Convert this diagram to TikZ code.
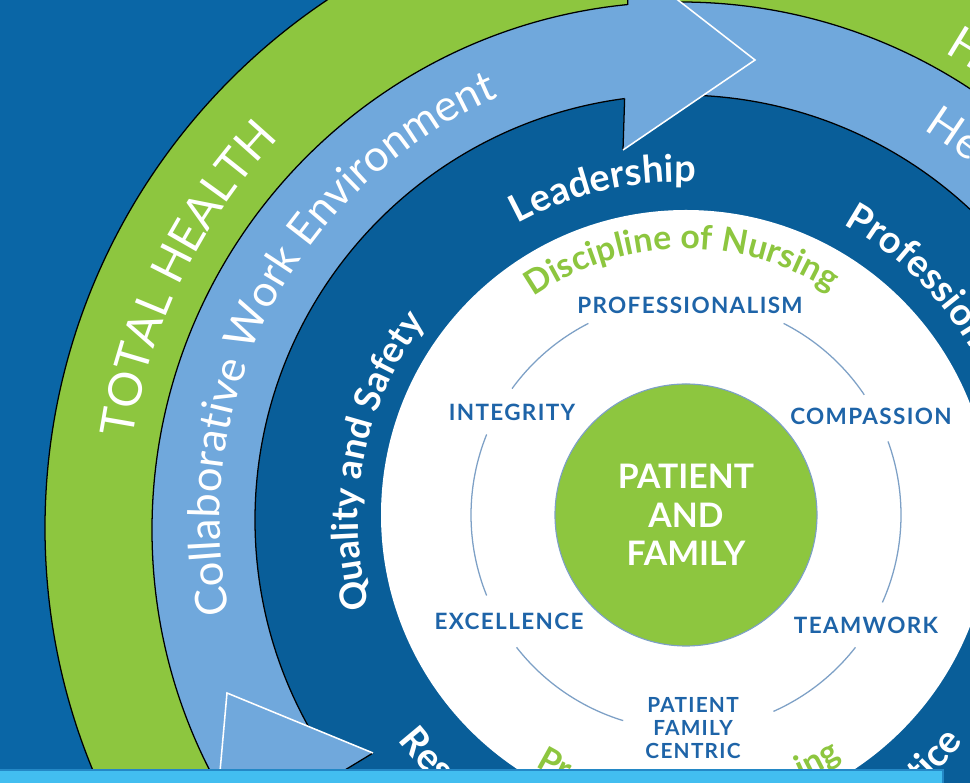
\documentclass[tikz,border=0pt]{standalone}
\usepackage{fontspec}
\setmainfont{Lato}
\newfontfamily\spacedfont{Lato}[LetterSpace=6]
\usepackage{tikz}
\usetikzlibrary{
   calc,
   decorations.text
}

\definecolor{bgblue}{RGB}{10,102,166}
\definecolor{deepblue}{RGB}{9,94,153}
\definecolor{skyblue}{RGB}{112,168,220}
\definecolor{leafgreen}{RGB}{141,198,63}
\definecolor{valueblue}{RGB}{30,100,168}
\definecolor{arcgrey}{RGB}{125,160,198}
\definecolor{barblue}{RGB}{66,190,240}
\definecolor{baredge}{RGB}{36,136,198}

\begin{document}
\begin{tikzpicture}[
    x=0.25mm, y=0.25mm,
    band/.style={draw=black, line width=0.9pt},
    valuelabel/.style={font=\spacedfont\bfseries\fontsize{16}{18}\selectfont, text=valueblue, align=center, inner sep=0pt},
    core/.style={circle, fill=leafgreen, draw=arcgrey, line width=0.8pt, minimum size=65.5mm, inner sep=0pt,
                 font=\bfseries\fontsize{24}{27.4}\selectfont, text=white, align=center},
    head/.style={fill=skyblue},
    tipline/.style={draw=white, line width=1.1pt},
    valuearc/.style={draw=arcgrey, line width=0.9pt}
]

\useasboundingbox (0,0) rectangle (970,783);
\clip (0,0) rectangle (970,783);

\coordinate (C) at (680,263);   % centre of the lettering on the bands
\coordinate (Cg) at (680,255);  % green band
\coordinate (Cs) at (680,253);  % light band
\coordinate (O) at (686,268);   % centre of the core

% background and bands
\fill[bgblue] (0,0) rectangle (970,783);
\filldraw[band, fill=leafgreen] (Cg) circle[radius=635];
\filldraw[band, fill=skyblue] (Cs) circle[radius=528];
\filldraw[band, fill=deepblue] (C) circle[radius=425];
\fill[white] (O) circle[radius=305];

% arrow heads on the light band
\coordinate (tipT) at (755,723);
\coordinate (barbTi) at (623,633);
\coordinate (barbTo) at (629,821);
\fill[head] (barbTi) -- (tipT) -- (barbTo) -- cycle;
\draw[band] (barbTi) -- ($(barbTi)!0.273!(barbTo)$);
\draw[band] ($(barbTi)!0.772!(barbTo)$) -- (barbTo);
\draw[tipline] (barbTi) -- (tipT) -- (barbTo);

\coordinate (tipB) at (227,90);
\coordinate (barbBi) at (373,30);
\coordinate (barbBo) at (213,-67);
\fill[head] (barbBi) -- (tipB) -- (barbBo) -- cycle;
\draw[band] (barbBi) -- ($(barbBi)!0.212!(barbBo)$);
\draw[tipline] (barbBi) -- (tipB) -- (barbBo);

% lettering on the bands
\path[decorate, decoration={text along path, text align=center,
    text={|\fontsize{33}{36}\selectfont\color{white}|TOTAL HEALTH}}]
  ($(C)+(190:553)$) arc[start angle=190, end angle=118, radius=553];
\path[decorate, decoration={text along path, text align=left,
    text={|\fontsize{33}{36}\selectfont\color{white}|H}}]
  ($(C)+(60.5:537)$) arc[start angle=60.5, end angle=0, radius=537];

\path[decorate, decoration={text along path, text align=center,
    text={|\fontsize{31}{34}\selectfont\color{white}|Collaborative Work Environment}}]
  ($(C)+(200:460)$) arc[start angle=200, end angle=105, radius=460];
\path[decorate, decoration={text along path, text align=left,
    text={|\fontsize{31}{34}\selectfont\color{white}|He}}]
  ($(C)+(58:460)$) arc[start angle=58, end angle=0, radius=460];

\path[decorate, decoration={text along path, text align=center,
    text={|\bfseries\fontsize{26}{29}\selectfont\color{white}|Quality and Safety}}]
  ($(C)+(206:322)$) arc[start angle=206, end angle=132, radius=322];
\path[decorate, decoration={text along path, text align=center,
    text={|\bfseries\fontsize{27}{30}\selectfont\color{white}|Leadership}}]
  ($(C)+(129:338)$) arc[start angle=129, end angle=77, radius=338];
\path[decorate, decoration={text along path, text align=left,
    text={|\bfseries\fontsize{27}{30}\selectfont\color{white}|Profession}}]
  ($(C)+(61:338)$) arc[start angle=61, end angle=-20, radius=338];
\path[decorate, decoration={text along path, text align=left,
    text={|\bfseries\fontsize{27}{30}\selectfont\color{white}|Res}}]
  ($(C)+(218:358)$) arc[start angle=218, end angle=300, radius=358];
\path[decorate, decoration={text along path, text align=right,
    text={|\bfseries\fontsize{27}{30}\selectfont\color{white}|tice}}]
  ($(C)+(250:360)$) arc[start angle=250, end angle=322, radius=360];

% green lettering round the values
\path[decorate, decoration={text along path, text align=fit to path,
    text={|\bfseries\fontsize{24}{26}\selectfont\color{leafgreen}|Discipline of Nursing}}]
  ($(O)+(125:266)$) arc[start angle=125, end angle=57, radius=266];
\path[decorate, decoration={text along path, text align=left,
    text={|\bfseries\fontsize{24}{26}\selectfont\color{leafgreen}|Pr}}]
  ($(O)+(239:293)$) arc[start angle=239, end angle=280, radius=293];
\path[decorate, decoration={text align=right, text along path,
    text={|\bfseries\fontsize{24}{26}\selectfont\color{leafgreen}|ing}}]
  ($(O)+(260:289)$) arc[start angle=260, end angle=302.5, radius=289];

% thin ring between the values
\foreach \a/\b in {34/63, 117/144, 158/202, 218/253, 294/322, -24/20}
  \draw[valuearc] ($(O)+(\a:215)$) arc[start angle=\a, end angle=\b, radius=215];

% core and values
\node[core] (core) at (O) {PATIENT\\AND\\FAMILY};
\node[valuelabel] (prof) at (690,478) {PROFESSIONALISM};
\node[valuelabel] (integ) at (512,371) {INTEGRITY};
\node[valuelabel] (compa) at (871,367) {COMPASSION};
\node[valuelabel] (excel) at (509,162) {EXCELLENCE};
\node[valuelabel] (team) at (866,158) {TEAMWORK};
\node[valuelabel, font=\spacedfont\bfseries\fontsize{14.8}{16.4}\selectfont] (centric) at (693,55) {PATIENT\\FAMILY\\CENTRIC};

% strip along the foot
\filldraw[fill=barblue, draw=baredge, line width=0.8pt] (-5,-5) rectangle (943,13);

\end{tikzpicture}
\end{document}
